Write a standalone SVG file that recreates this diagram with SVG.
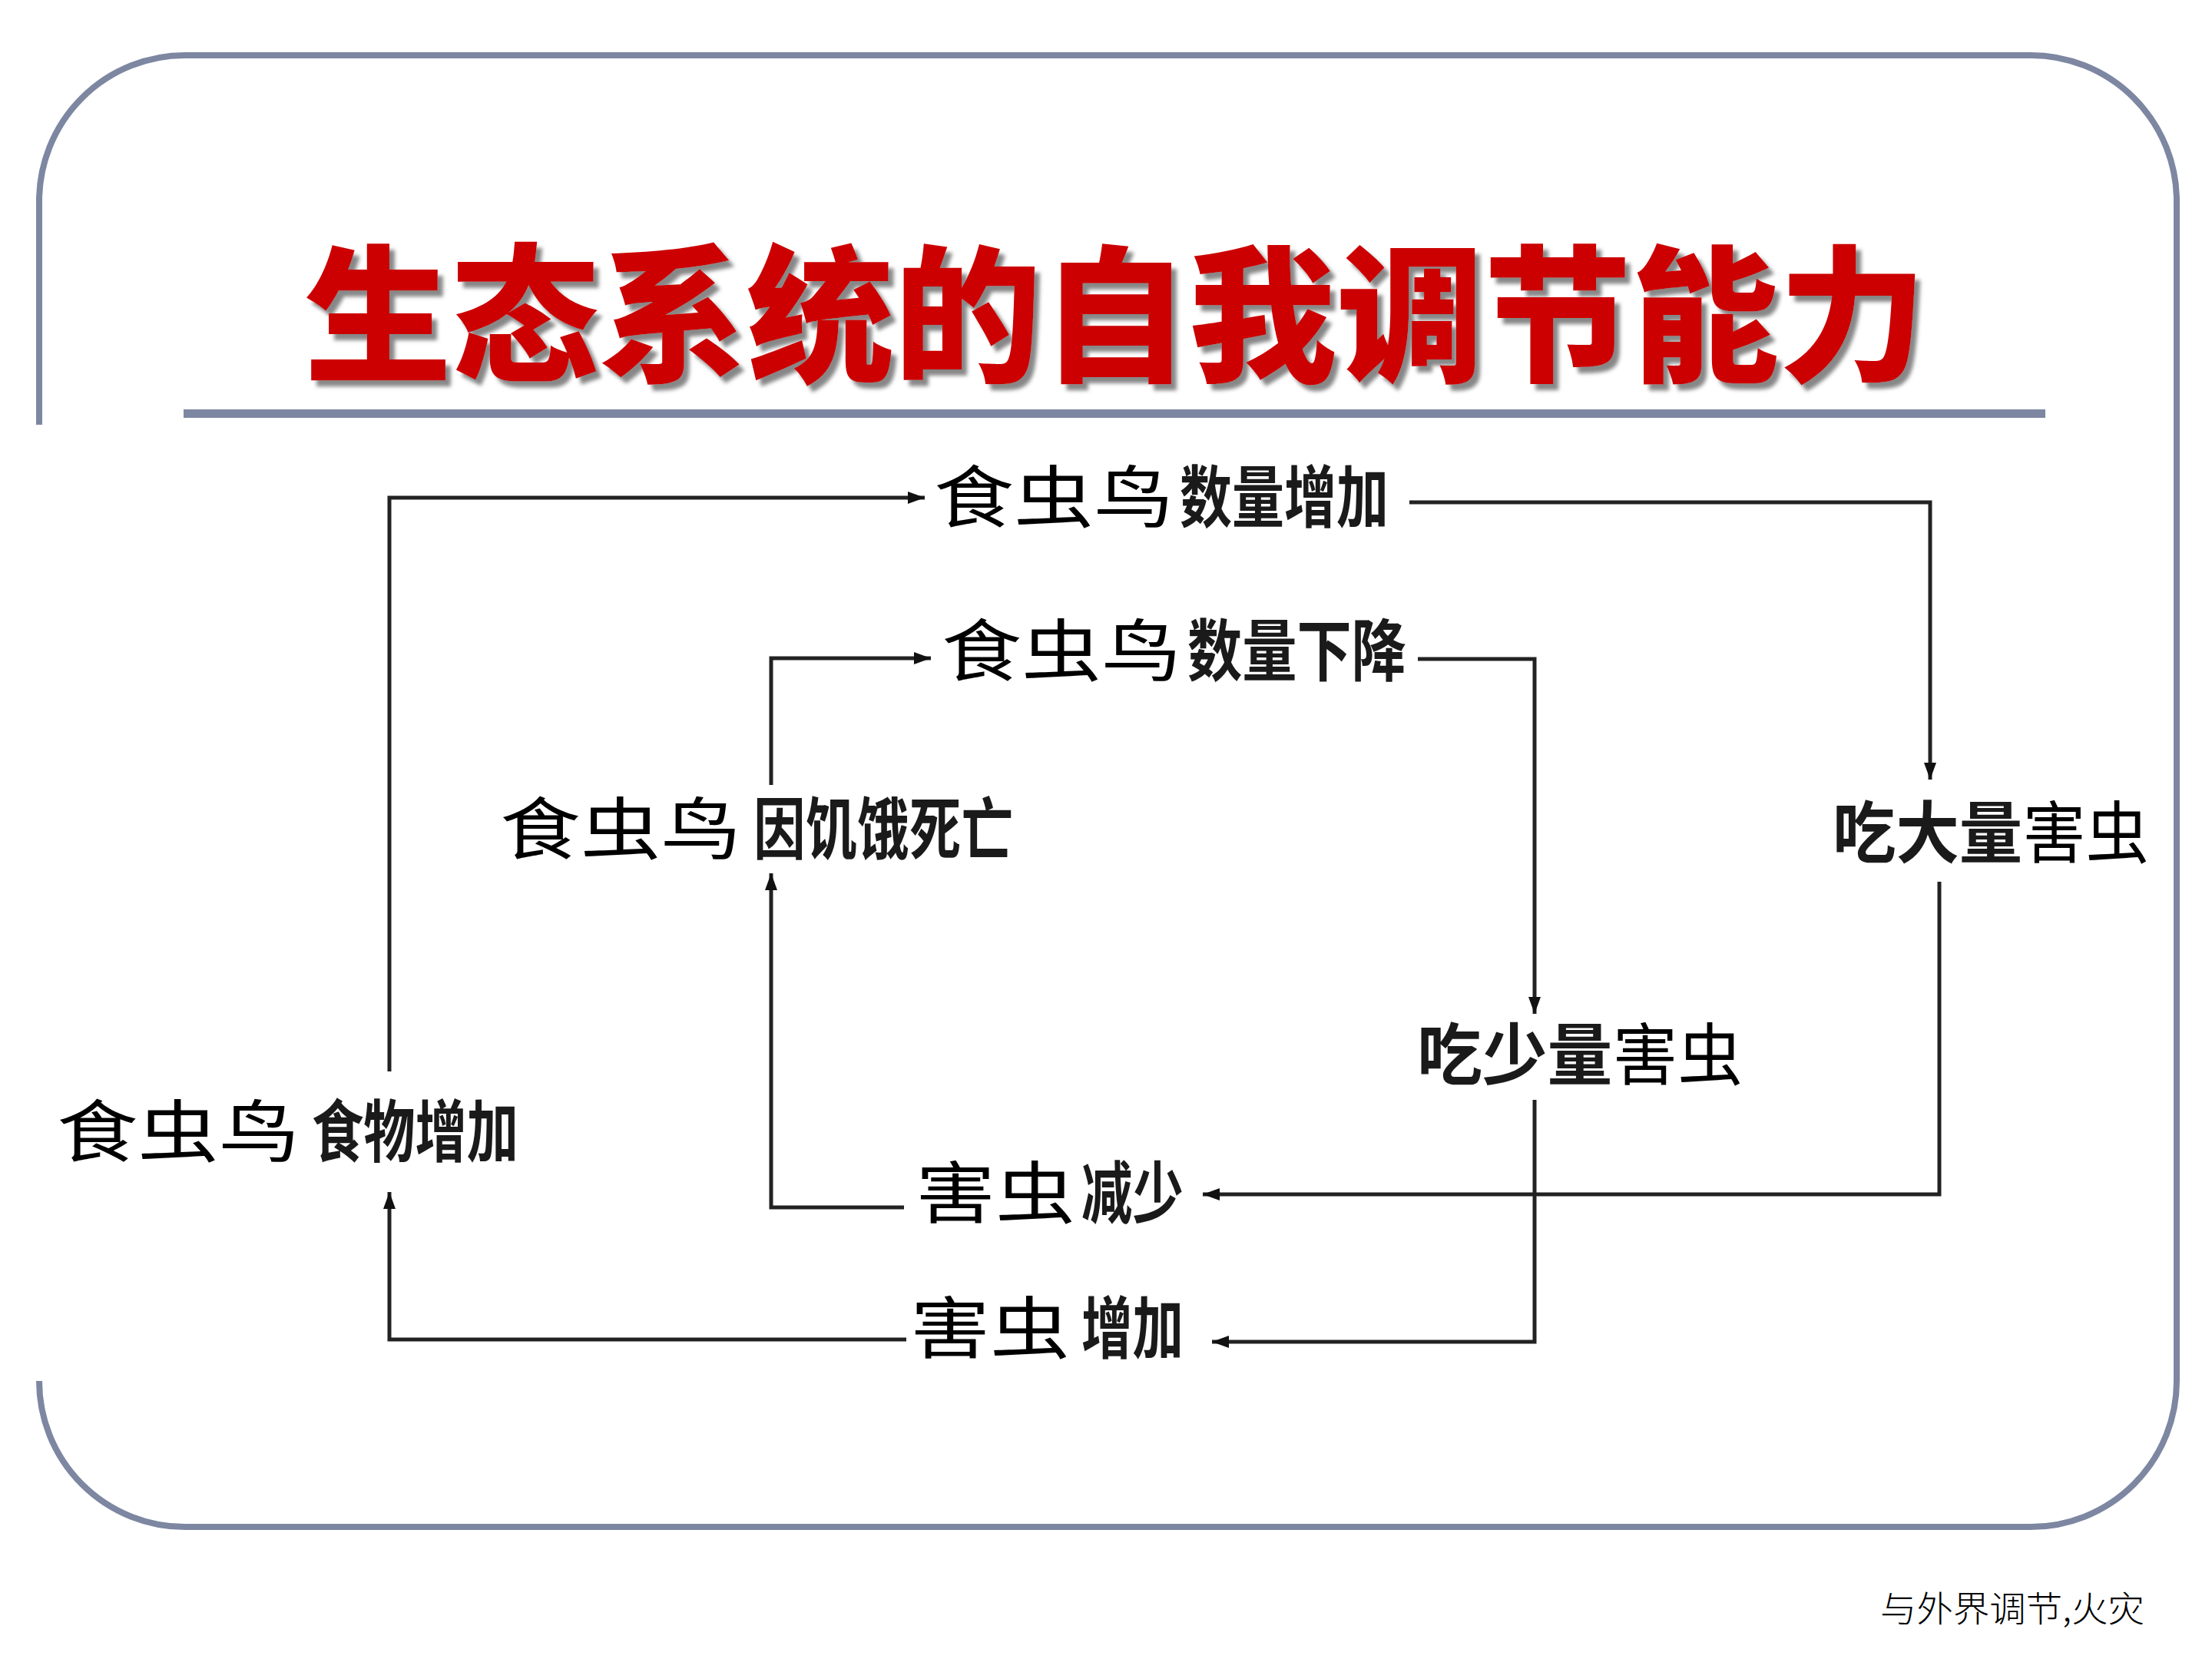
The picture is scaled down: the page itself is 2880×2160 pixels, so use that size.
<svg xmlns="http://www.w3.org/2000/svg" width="2880" height="2160" viewBox="0 0 2880 2160">
<defs>
<style>
.frame{fill:none;stroke:#7D87A1;stroke-width:8}
.title{font-family:"Noto Sans CJK SC","Noto Sans CJK TC",sans-serif;font-weight:900;font-size:192px;fill:#CC0000}
.lbl{font-family:"Noto Sans CJK SC","Noto Sans CJK TC",sans-serif;font-size:88px;fill:#000}
.n{font-weight:400}
.c{font-weight:700;fill:#1a1a1a}
.conn{fill:none;stroke:#222;stroke-width:5}
.foot{font-family:"Noto Sans CJK SC",sans-serif;font-size:46px;fill:#000;font-weight:300}
</style>
<filter id="sh" x="-5%" y="-10%" width="110%" height="130%">
<feDropShadow dx="7" dy="8" stdDeviation="2.5" flood-color="#7a7a7a" flood-opacity="0.9"/>
</filter>
<marker id="ah" markerUnits="userSpaceOnUse" markerWidth="24" markerHeight="16" refX="22" refY="8" orient="auto">
<path d="M0,0 L22,8 L0,16 z" fill="#111"/>
</marker>
</defs>
<rect width="2880" height="2160" fill="#fff"/>
<g id="frame">
<path class="frame" d="M51,553 V262 A190,190 0 0 1 241,72 H2644 A190,190 0 0 1 2834,262 V1798 A190,190 0 0 1 2644,1988 H241 A190,190 0 0 1 51,1798"/>
<rect x="239" y="533" width="2424" height="11" fill="#7D87A1"/>
</g>
<g id="title">
<text class="title" x="1452" y="482" text-anchor="middle" filter="url(#sh)">生态系统的自我调节能力</text>
</g>
<g id="connectors">
<path class="conn" d="M1180,1744 H507 V1552" marker-end="url(#ah)"/>
<path class="conn" d="M507,1395 V648 H1204" marker-end="url(#ah)"/>
<path class="conn" d="M1835,654 H2513 V1015" marker-end="url(#ah)"/>
<path class="conn" d="M2525,1148 V1555 H1566" marker-end="url(#ah)"/>
<path class="conn" d="M1177,1572 H1004 V1137" marker-end="url(#ah)"/>
<path class="conn" d="M1004,1022 V857 H1212" marker-end="url(#ah)"/>
<path class="conn" d="M1846,858 H1998 V1320" marker-end="url(#ah)"/>
<path class="conn" d="M1998,1432 V1747 H1578" marker-end="url(#ah)"/>
</g>
<g id="n1"><text class="lbl" y="679"><tspan class="n" x="1216" textLength="312" lengthAdjust="spacingAndGlyphs">食虫鸟</tspan><tspan class="c" x="1536" textLength="272" lengthAdjust="spacingAndGlyphs">数量增加</tspan></text></g>
<g id="n2"><text class="lbl" y="879"><tspan class="n" x="1226" textLength="312" lengthAdjust="spacingAndGlyphs">食虫鸟</tspan><tspan class="c" x="1546" textLength="285" lengthAdjust="spacingAndGlyphs">数量下降</tspan></text></g>
<g id="n3"><text class="lbl" y="1111"><tspan class="n" x="651" textLength="314" lengthAdjust="spacingAndGlyphs">食虫鸟</tspan><tspan class="c" x="981" textLength="338" lengthAdjust="spacingAndGlyphs">因饥饿死亡</tspan></text></g>
<g id="n4"><text class="lbl" x="2386" y="1116" textLength="412" lengthAdjust="spacingAndGlyphs"><tspan class="c">吃大量</tspan><tspan class="n">害虫</tspan></text></g>
<g id="n5"><text class="lbl" x="1845" y="1405" textLength="424" lengthAdjust="spacingAndGlyphs"><tspan class="c">吃少量</tspan><tspan class="n">害虫</tspan></text></g>
<g id="n6"><text class="lbl" y="1505"><tspan class="n" x="74" textLength="316" lengthAdjust="spacingAndGlyphs">食虫鸟</tspan><tspan class="c" x="406" textLength="269" lengthAdjust="spacingAndGlyphs">食物增加</tspan></text></g>
<g id="n7"><text class="lbl" y="1585"><tspan class="n" x="1192" textLength="208" lengthAdjust="spacingAndGlyphs">害虫</tspan><tspan class="c" x="1408" textLength="133" lengthAdjust="spacingAndGlyphs">减少</tspan></text></g>
<g id="n8"><text class="lbl" y="1761"><tspan class="n" x="1185" textLength="208" lengthAdjust="spacingAndGlyphs">害虫</tspan><tspan class="c" x="1408" textLength="133" lengthAdjust="spacingAndGlyphs">增加</tspan></text></g>
<g id="footer">
<text class="foot" x="2448" y="2111" textLength="344" lengthAdjust="spacingAndGlyphs">与外界调节,火灾</text>
</g>
</svg>
